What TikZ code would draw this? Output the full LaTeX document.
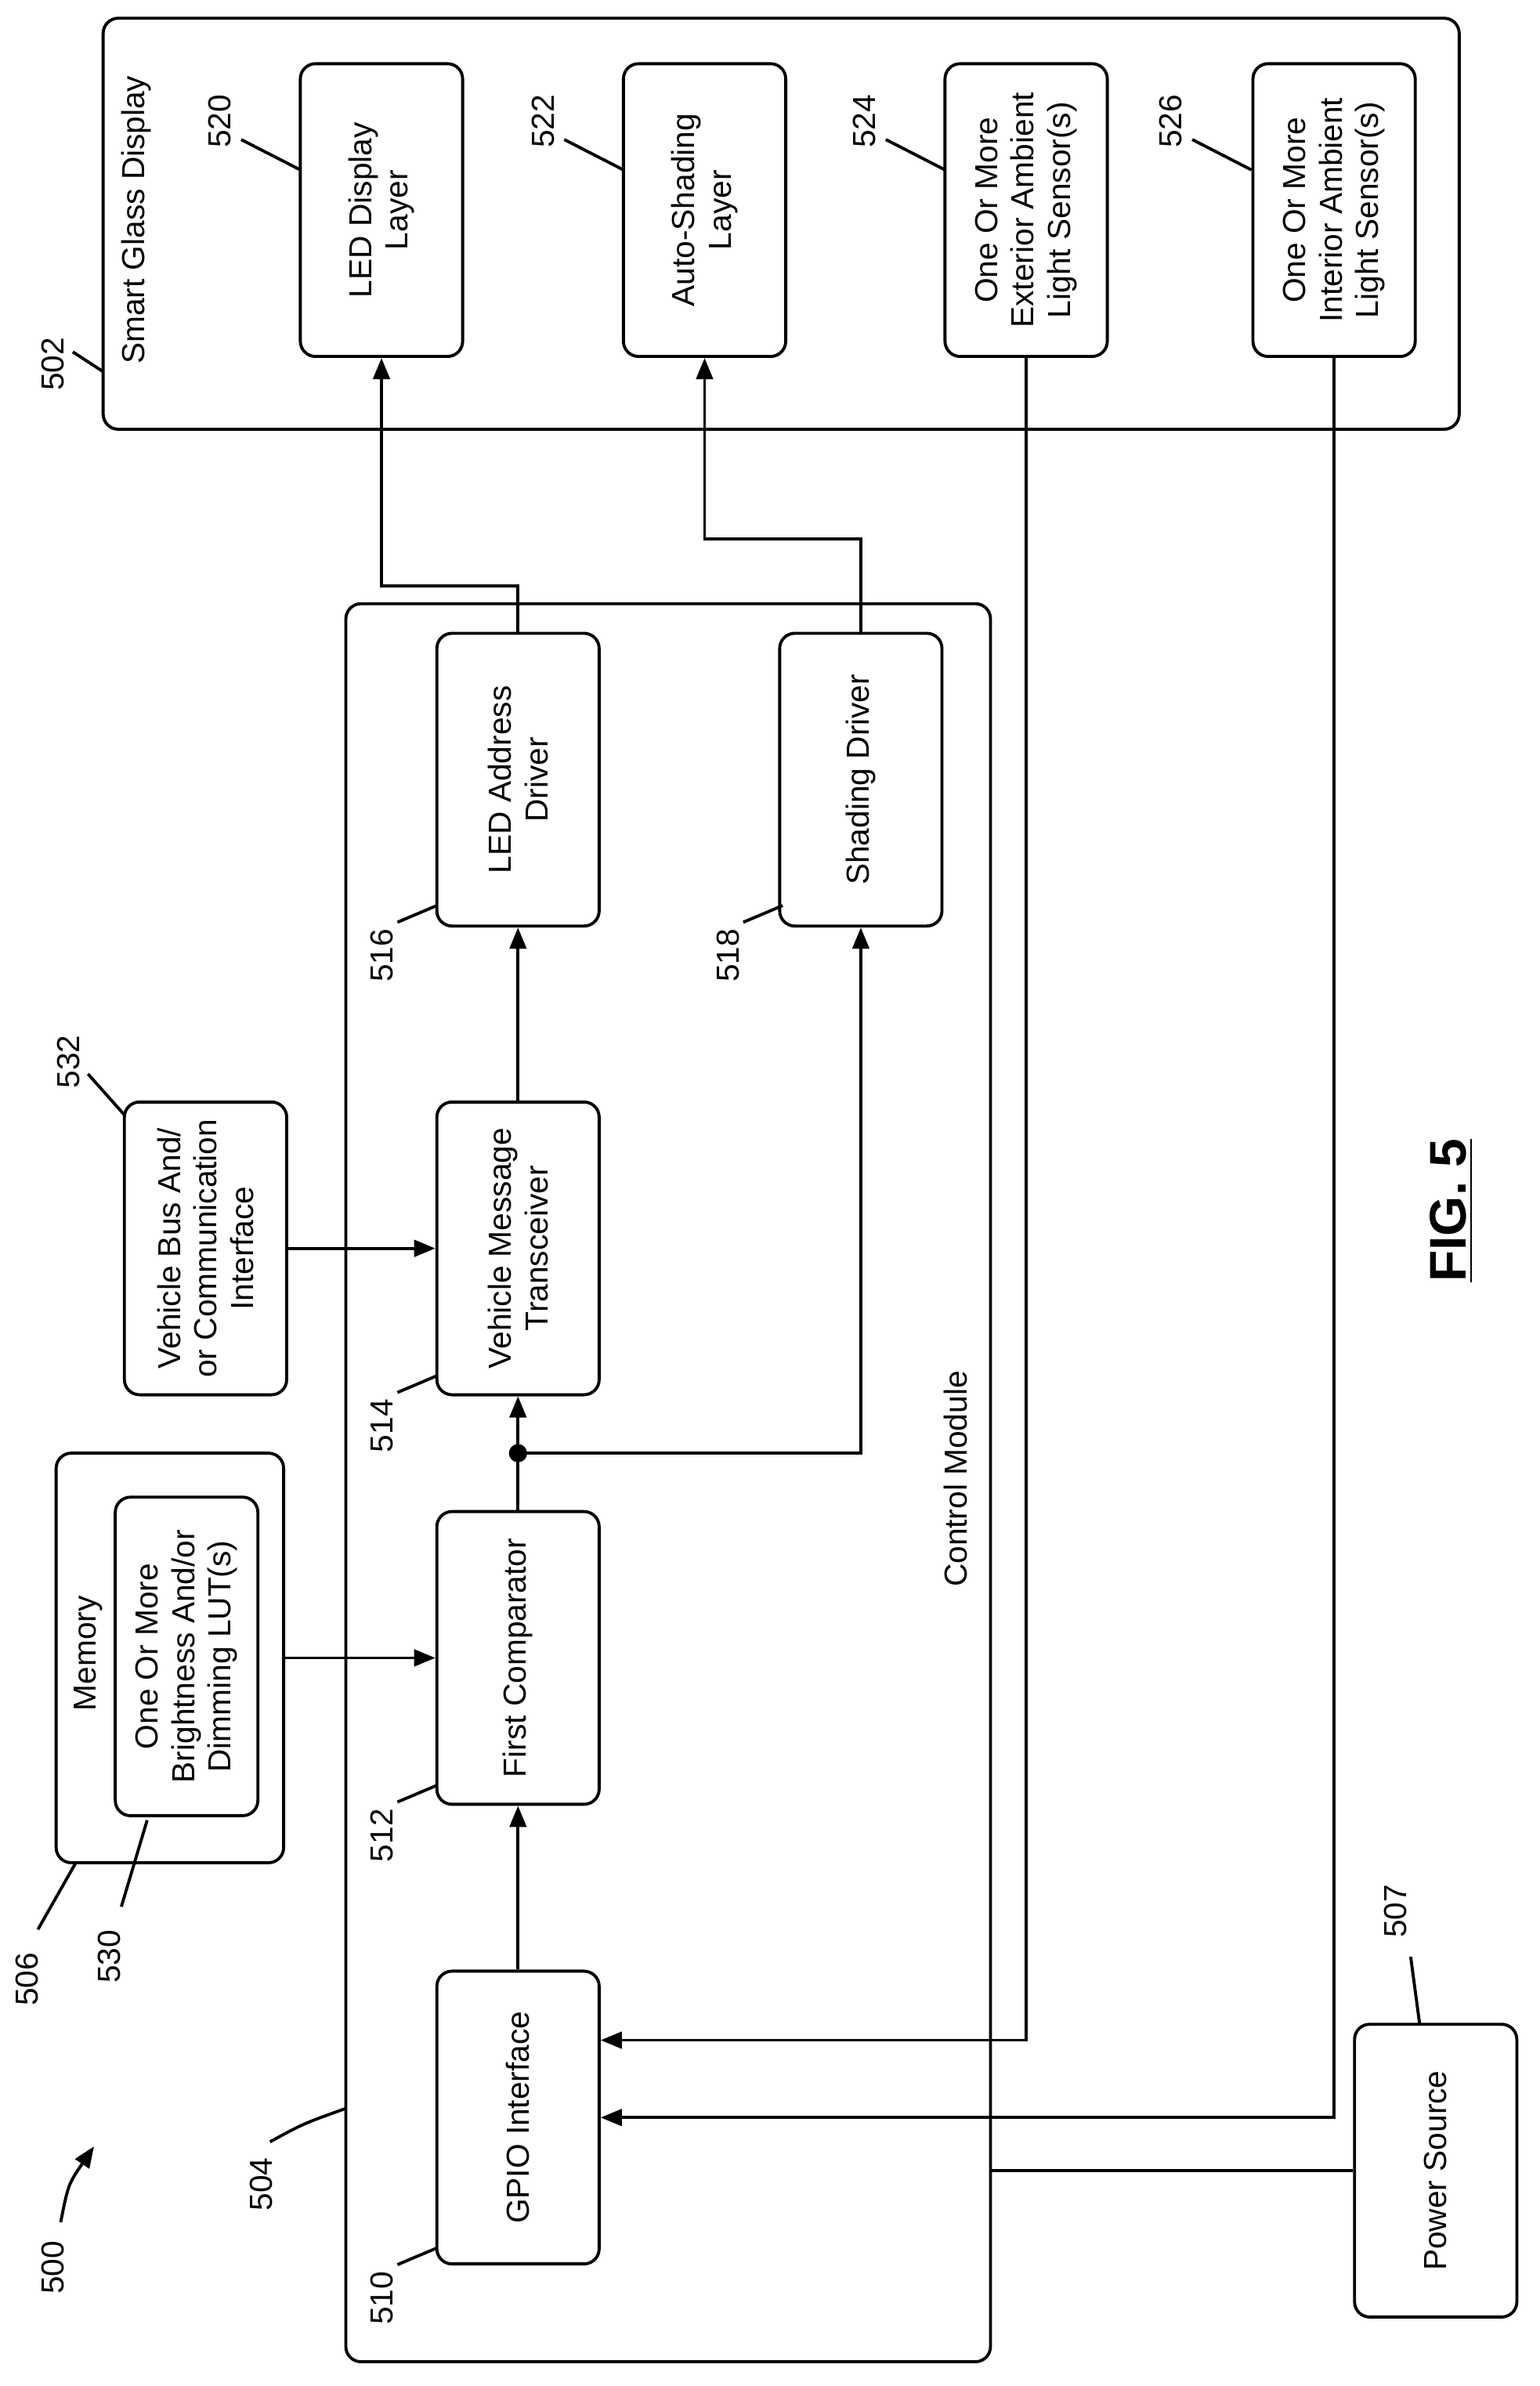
\documentclass[tikz,border=0pt]{standalone}
\usepackage{fontspec}
\setmainfont{Liberation Sans}
\usetikzlibrary{arrows.meta}
\tikzset{
  box/.style={draw, line width=1pt, rounded corners=5pt, minimum width=53.5pt, minimum height=96.5pt},
  txt/.style={rotate=90, align=center, font=\fontsize{10.5}{12}\selectfont},
  num/.style={rotate=90, font=\fontsize{10.5}{12}\selectfont},
  arr/.style={line width=1pt, -{Triangle[length=7pt,width=5.5pt]}},
  wire/.style={line width=1pt}
}
\begin{document}
\begin{tikzpicture}[x=0.5pt,y=-0.5pt]
  \useasboundingbox (0,0) rectangle (1015,1573);
  % smart glass display
  \node[box, minimum width=447pt, minimum height=135.5pt] (glass) at (515,147.5) {};
  \node[txt] (glasstxt) at (90,145) {Smart Glass Display};
  \node[box, label={[txt]center:{LED Display\\Layer}}] (n520) at (251.5,138.5) {};
  \node[box, label={[txt]center:{Auto-Shading\\Layer}}] (n522) at (464.5,138.5) {};
  \node[box, label={[txt]center:{One Or More\\Exterior Ambient\\Light Sensor(s)}}] (n524) at (676.5,138.5) {};
  \node[box, label={[txt]center:{One Or More\\Interior Ambient\\Light Sensor(s)}}] (n526) at (879.5,138.5) {};
  \foreach \n/\x in {520/145,522/358,524/570,526/772}{
    \node[num] (l\n) at (\x,80) {\n};
    \draw[wire] (\x+14,92) -- (\x+53,112);
  }
  \node[num] (l502) at (35,240) {502};
  \draw[wire] (48,232) -- (68,245);
  % control module
  \node[box, minimum width=212.5pt, minimum height=579.5pt] (ctrl) at (440.5,977.5) {};
  \node[txt] (ctrltxt) at (630,975) {Control Module};
  \node[box, label={[txt]center:{LED Address\\Driver}}] (n516) at (341.5,514) {};
  \node[box, label={[txt]center:{Shading Driver}}] (n518) at (567.5,514) {};
  \node[box, label={[txt]center:{Vehicle Message\\Transceiver}}] (n514) at (341.5,823) {};
  \node[box, label={[txt]center:{First Comparator}}] (n512) at (341.5,1093) {};
  \node[box, label={[txt]center:{GPIO Interface}}] (n510) at (341.5,1396) {};
  \foreach \n/\x/\y in {516/252/630,518/480/630,514/252/940,512/252/1210,510/252/1515}{
    \node[num] (l\n) at (\x,\y) {\n};
    \draw[wire] (\x+10,\y-22) -- (\x+36,\y-33);
  }
  \node[num] (l504) at (172,1440) {504};
  \draw[wire] (178,1412) .. controls (200,1400) .. (228,1390);
  % memory and bus
  \node[box, minimum width=75pt, minimum height=135pt] (mem) at (112,1093) {};
  \node[txt] (memtxt) at (58,1090) {Memory};
  \node[box, minimum width=47pt, minimum height=105pt, label={[txt]center:{One Or More\\Brightness And/or\\Dimming LUT(s)}}] (n530) at (123,1092) {};
  \node[num] (l506) at (18,1305) {506};
  \draw[wire] (25,1272) -- (50,1228);
  \node[num] (l530) at (72,1290) {530};
  \draw[wire] (80,1257) -- (97,1200);
  \node[box, label={[txt]center:{Vehicle Bus And/\\or Communication\\Interface}}] (n532) at (135.5,823) {};
  \node[num] (l532) at (45,700) {532};
  \draw[wire] (58,708) -- (82,735);
  % power source
  \node[box, label={[txt]center:{Power Source}}] (n507) at (946.5,1431) {};
  \node[num] (l507) at (920,1260) {507};
  \draw[wire] (930,1290) -- (936,1335);
  \node[num] (l500) at (35,1495) {500};
  \draw[arr] (40,1465) .. controls (45,1440) .. (62,1415);
  % connectors
  \draw[arr] (n516.north) -- ++(0,-30) -| (n520.south);
  \draw[arr] (n518.north) -- ++(0,-61) -| (n522.south);
  \draw[arr] (n514.north) -- (n516.south);
  \draw[arr] (n532.east) -- (n514.west);
  \draw[arr] (n512.north) -- (n514.south);
  \coordinate (split) at (341.5,958);
  \fill (split) circle (3pt);
  \draw[arr] (split) -| (n518.south);
  \draw[arr] (mem.east) -- (n512.west);
  \draw[arr] (n510.north) -- (n512.south);
  \draw[arr] (n524.south) |- ([yshift=25.5pt]n510.east);
  \draw[arr] (n526.south) |- (n510.east);
  \draw[wire] (n507.west) -- (n507.west -| ctrl.east);
  \node[rotate=90, font=\bfseries\fontsize{17}{20}\selectfont] (fig) at (957,798) {\underline{FIG. 5}};
\end{tikzpicture}
\end{document}
